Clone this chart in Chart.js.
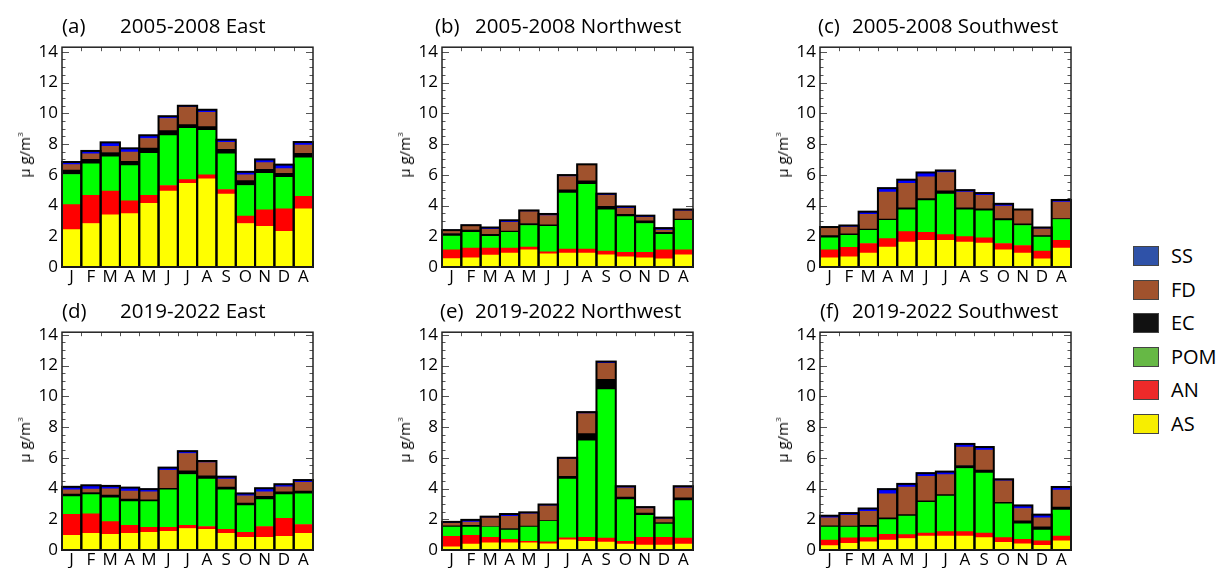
<!DOCTYPE html>
<html><head><meta charset="utf-8">
<script src="https://cdn.jsdelivr.net/npm/chart.js@4.4.1/dist/chart.umd.min.js"></script>
<style>
body{margin:0;background:#fff;}
#wrap{position:relative;width:1216px;height:568px;overflow:hidden;background:#fff;font-family:"Open Sans",sans-serif;color:#000;}
.t{position:absolute;font-size:20.5px;line-height:24px;white-space:nowrap;}
.yl{position:absolute;font-size:15px;line-height:16px;white-space:nowrap;transform:translate(-50%,-50%) rotate(-90deg);}
.yl sup{font-size:8px;vertical-align:7px;}
.lb{position:absolute;width:26px;height:20px;box-sizing:border-box;border:1px solid #444;}
.lt{position:absolute;font-size:20px;line-height:24px;}
</style>
</head><body><div id="wrap"></div>
<script>
const FONT = '"Open Sans", sans-serif';
const months = ['J','F','M','A','M','J','J','A','S','O','N','D','A'];
const species = ['AS','AN','POM','EC','FD','SS'];
const barColors = ['#ffff00','#ff0000','#00ff00','#000000','#a0522d','#0000ff'];
const legendColors = ['#f7ee00','#ee2a2a','#66b845','#111111','#a0522d','#2f52a8'];
const yTicks = [0,2,4,6,8,10,12,14];

// (a) 2005-2008 East
const a_AS  = [2.43,2.83,3.40,3.47,4.15,4.94,5.45,5.74,4.74,2.83,2.64,2.32,3.79];
const a_AN  = [1.63,1.83,1.54,0.83,0.51,0.36,0.23,0.26,0.30,0.49,1.08,1.47,0.81];
const a_POM = [1.96,2.06,2.23,2.30,2.74,3.25,3.34,2.89,2.32,1.98,2.37,2.04,2.51];
const a_EC  = [0.28,0.28,0.28,0.27,0.34,0.32,0.24,0.24,0.30,0.32,0.27,0.26,0.29];
const a_FD  = [0.36,0.36,0.40,0.60,0.62,0.79,1.14,0.93,0.45,0.38,0.43,0.31,0.54];
const a_SS  = [0.17,0.19,0.26,0.25,0.21,0.15,0.09,0.17,0.17,0.19,0.21,0.26,0.19];
// (b) 2005-2008 Northwest
const b_AS  = [0.54,0.60,0.77,0.91,1.11,0.85,0.91,0.91,0.79,0.66,0.60,0.53,0.79];
const b_AN  = [0.58,0.63,0.46,0.32,0.19,0.13,0.26,0.26,0.25,0.30,0.36,0.58,0.32];
const b_POM = [0.89,1.03,0.77,1.03,1.40,1.66,3.64,4.21,2.68,2.32,1.87,1.02,1.93];
const b_EC  = [0.17,0.14,0.13,0.08,0.13,0.10,0.21,0.22,0.22,0.15,0.17,0.13,0.07];
const b_FD  = [0.14,0.24,0.32,0.57,0.77,0.60,0.87,1.02,0.72,0.38,0.23,0.14,0.55];
const b_SS  = [0.08,0.08,0.12,0.13,0.08,0.11,0.09,0.06,0.11,0.13,0.11,0.13,0.08];
// (c) 2005-2008 Southwest
const c_AS  = [0.60,0.66,0.91,1.30,1.62,1.74,1.74,1.62,1.55,1.11,0.91,0.53,1.23];
const c_AN  = [0.51,0.62,0.62,0.55,0.68,0.52,0.37,0.36,0.34,0.42,0.49,0.51,0.51];
const c_POM = [0.78,0.78,0.85,1.19,1.42,2.06,2.63,1.74,1.77,1.49,1.30,0.90,1.35];
const c_EC  = [0.15,0.09,0.09,0.07,0.13,0.13,0.22,0.13,0.13,0.13,0.11,0.10,0.06];
const c_FD  = [0.47,0.45,0.96,1.76,1.60,1.42,1.19,1.02,0.87,0.81,0.87,0.45,1.08];
const c_SS  = [0.09,0.10,0.17,0.26,0.23,0.28,0.13,0.13,0.15,0.15,0.06,0.08,0.13];
// (d) 2019-2022 East
const d_AS  = [0.96,1.09,1.02,1.09,1.15,1.21,1.40,1.34,1.09,0.83,0.83,0.89,1.09];
const d_AN  = [1.36,1.27,0.83,0.51,0.32,0.26,0.20,0.19,0.25,0.32,0.70,1.17,0.57];
const d_POM = [1.15,1.24,1.55,1.55,1.68,2.44,3.31,3.09,2.57,1.74,1.75,1.54,2.00];
const d_EC  = [0.17,0.14,0.17,0.17,0.11,0.11,0.24,0.21,0.18,0.17,0.21,0.19,0.17];
const d_FD  = [0.27,0.22,0.41,0.51,0.53,1.17,1.13,0.85,0.53,0.47,0.30,0.32,0.57];
const d_SS  = [0.20,0.25,0.19,0.23,0.17,0.17,0.15,0.11,0.15,0.15,0.23,0.17,0.15];
// (e) 2019-2022 Northwest
const e_AS  = [0.21,0.38,0.47,0.47,0.47,0.40,0.66,0.57,0.51,0.38,0.32,0.32,0.38];
const e_AN  = [0.68,0.58,0.36,0.23,0.10,0.13,0.13,0.26,0.26,0.19,0.51,0.51,0.39];
const e_POM = [0.60,0.53,0.66,0.60,0.92,1.34,3.83,6.28,9.66,2.71,1.43,0.85,2.44];
const e_EC  = [0.08,0.11,0.04,0.10,0.06,0.04,0.17,0.46,0.68,0.17,0.14,0.11,0.19];
const e_FD  = [0.17,0.21,0.56,0.79,0.81,0.96,1.12,1.30,1.04,0.59,0.30,0.23,0.64];
const e_SS  = [0.09,0.15,0.08,0.15,0.09,0.09,0.09,0.10,0.11,0.11,0.09,0.09,0.11];
// (f) 2019-2022 Southwest
const f_AS  = [0.28,0.43,0.53,0.64,0.75,0.90,0.90,0.90,0.80,0.50,0.40,0.30,0.60];
const f_AN  = [0.36,0.36,0.28,0.38,0.25,0.20,0.30,0.30,0.30,0.30,0.30,0.30,0.30];
const f_POM = [0.85,0.70,0.68,0.96,1.20,2.00,2.30,4.10,3.90,2.20,1.00,0.70,1.70];
const f_EC  = [0.08,0.06,0.11,0.11,0.10,0.10,0.10,0.20,0.20,0.10,0.20,0.20,0.20];
const f_FD  = [0.52,0.71,0.91,1.57,1.80,1.60,1.30,1.20,1.30,1.40,0.80,0.60,1.10];
const f_SS  = [0.14,0.14,0.19,0.30,0.20,0.20,0.20,0.20,0.20,0.10,0.20,0.20,0.20];

const panels = [
  {tag:'(a)', title:'2005-2008 East',      data:[a_AS,a_AN,a_POM,a_EC,a_FD,a_SS], left:62,  top:43,  h:224, ymax:14.3, tagX:62,  titleX:120},
  {tag:'(b)', title:'2005-2008 Northwest', data:[b_AS,b_AN,b_POM,b_EC,b_FD,b_SS], left:442, top:43,  h:224, ymax:14.3, tagX:435, titleX:475},
  {tag:'(c)', title:'2005-2008 Southwest', data:[c_AS,c_AN,c_POM,c_EC,c_FD,c_SS], left:820, top:43,  h:224, ymax:14.3, tagX:818, titleX:852},
  {tag:'(d)', title:'2019-2022 East',      data:[d_AS,d_AN,d_POM,d_EC,d_FD,d_SS], left:62,  top:328, h:222, ymax:14.17, tagX:62,  titleX:120},
  {tag:'(e)', title:'2019-2022 Northwest', data:[e_AS,e_AN,e_POM,e_EC,e_FD,e_SS], left:442, top:328, h:222, ymax:14.17, tagX:440, titleX:475},
  {tag:'(f)', title:'2019-2022 Southwest', data:[f_AS,f_AN,f_POM,f_EC,f_FD,f_SS], left:820, top:328, h:222, ymax:14.17, tagX:820, titleX:852}
];

const PW = 251, YW = 60, PADT = 10, PADR = 8, XH = 24;

const framePlugin = {
  id:'frame',
  beforeDatasetsDraw(chart){
    const ctx = chart.ctx, y = chart.scales.y, a = chart.chartArea;
    ctx.save();
    ctx.strokeStyle = '#555'; ctx.lineWidth = 1;
    for (let v = 0; v <= 14.001; v += 0.5) {
      const py = Math.round(y.getPixelForValue(v)) + 0.5;
      const len = (Math.abs(v % 2) < 1e-6) ? 7 : 3.5;
      ctx.beginPath();
      ctx.moveTo(a.left, py); ctx.lineTo(a.left + len, py);
      ctx.moveTo(a.right, py); ctx.lineTo(a.right - len, py);
      ctx.stroke();
    }
    const meta = chart.getDatasetMeta(0);
    meta.data.forEach((el, i) => {
      if (i === 0) return;
      const px = Math.round(el.x - el.width / 2) + 0.5;
      ctx.beginPath(); ctx.moveTo(px, a.top); ctx.lineTo(px, a.top + 4); ctx.stroke();
    });
    ctx.restore();
  },
  afterDatasetsDraw(chart){
    const ctx = chart.ctx, y = chart.scales.y, a = chart.chartArea;
    const meta = chart.getDatasetMeta(0);
    ctx.save();
    ctx.strokeStyle = '#000'; ctx.lineWidth = 2;
    meta.data.forEach((el, i) => {
      let tot = 0;
      chart.data.datasets.forEach(d => { tot += d.data[i]; });
      const x0 = el.x - el.width / 2;
      const yt = y.getPixelForValue(tot), yb = y.getPixelForValue(0);
      ctx.strokeRect(x0, yt, el.width, yb - yt);
    });
    ctx.strokeStyle = '#222'; ctx.lineWidth = 1.5;
    ctx.strokeRect(a.left, a.top, a.right - a.left, a.bottom - a.top);
    ctx.restore();
  }
};

const wrap = document.getElementById('wrap');

panels.forEach(p => {
  const W = YW + PW + PADR, H = PADT + p.h + XH;
  const c = document.createElement('canvas');
  c.width = W; c.height = H;
  c.style.cssText = `position:absolute;left:${p.left - YW}px;top:${p.top - PADT}px;width:${W}px;height:${H}px;`;
  wrap.appendChild(c);

  const tag = document.createElement('div');
  tag.className = 't'; tag.textContent = p.tag;
  tag.style.left = p.tagX + 'px'; tag.style.top = (p.top - 30) + 'px';
  wrap.appendChild(tag);
  const tt = document.createElement('div');
  tt.className = 't'; tt.textContent = p.title;
  tt.style.left = p.titleX + 'px'; tt.style.top = (p.top - 30) + 'px';
  wrap.appendChild(tt);

  const yl = document.createElement('div');
  yl.className = 'yl'; yl.innerHTML = 'μ g/m<sup>3</sup>';
  yl.style.left = (p.left - 40) + 'px'; yl.style.top = (p.top + 112) + 'px';
  wrap.appendChild(yl);

  new Chart(c, {
    type: 'bar',
    data: {
      labels: months,
      datasets: species.map((s, k) => ({
        label: s, data: p.data[k], backgroundColor: barColors[k],
        borderWidth: 0, categoryPercentage: 1, barPercentage: 1, stack: 'all'
      }))
    },
    options: {
      responsive: false, animation: false, devicePixelRatio: 1,
      layout: {padding: {top: PADT, right: PADR, left: 0, bottom: 0}},
      plugins: {legend: {display: false}, tooltip: {enabled: false}, title: {display: false}},
      scales: {
        x: {
          stacked: true,
          grid: {display: false, drawTicks: false}, border: {display: false},
          ticks: {font: {family: FONT, size: 17}, color: '#000', padding: 0, autoSkip: false, maxRotation: 0, minRotation: 0},
          afterFit(s){ s.height = XH; }
        },
        y: {
          stacked: true, min: 0, max: p.ymax,
          grid: {display: false, drawTicks: false}, border: {display: false},
          ticks: {font: {family: FONT, size: 17}, color: '#000', padding: 4},
          afterBuildTicks(s){ s.ticks = yTicks.map(v => ({value: v})); },
          afterFit(s){ s.width = YW; }
        }
      }
    },
    plugins: [framePlugin]
  });
});

// legend (top to bottom: SS, FD, EC, POM, AN, AS)
const order = [5,4,3,2,1,0];
order.forEach((k, r) => {
  const cy = 256 + r * 33.5;
  const b = document.createElement('div');
  b.className = 'lb'; b.style.left = '1133px'; b.style.top = (cy - 10) + 'px';
  b.style.background = legendColors[k];
  wrap.appendChild(b);
  const t = document.createElement('div');
  t.className = 'lt'; t.textContent = species[k];
  t.style.left = '1171px'; t.style.top = (cy - 12) + 'px';
  wrap.appendChild(t);
});
</script></body></html>
